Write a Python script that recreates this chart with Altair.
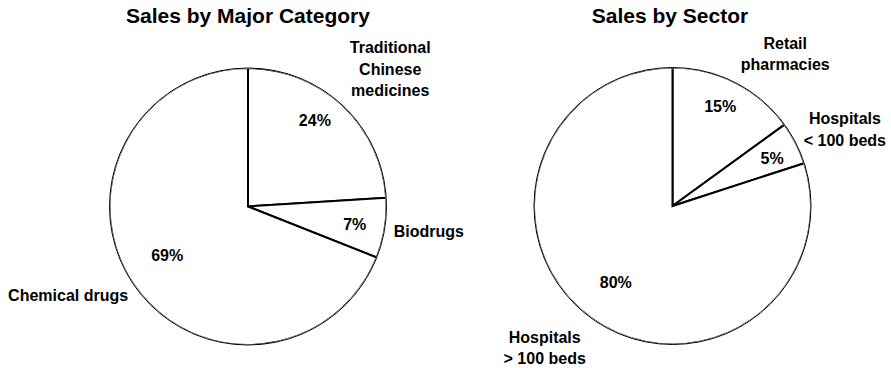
import altair as alt
import pandas as pd

# ---- data ----
category_names = ["Traditional\nChinese\nmedicines", "Biodrugs", "Chemical drugs"]
category_values = [24, 7, 69]

sector_names = ["Retail\npharmacies", "Hospitals\n< 100 beds", "Hospitals\n> 100 beds"]
sector_values = [15, 5, 80]

titles = ["Sales by Major Category", "Sales by Sector"]

FONT = "Liberation Sans"
R = 138.5
THETA_SCALE = alt.Scale(domain=[0, 100])

df_cat = pd.DataFrame({"idx": range(len(category_names)), "name": category_names, "value": category_values})
df_sec = pd.DataFrame({"idx": range(len(sector_names)), "name": sector_names, "value": sector_values})


def pie_layers(df, cx, cy):
    base = alt.Chart(df)
    slices = base.mark_arc(radius=R, fill="white", stroke="black", strokeWidth=2).encode(
        theta=alt.Theta("value:Q", stack=True, scale=THETA_SCALE),
        order=alt.Order("idx:Q"),
        detail="name:N",
        x=alt.value(cx), y=alt.value(cy),
    )
    agg = base.transform_aggregate(total="sum(value)")
    cover = agg.mark_arc(radius=141, radius2=137.8, fill="white", strokeWidth=0).encode(
        theta=alt.Theta("total:Q", stack=True, scale=THETA_SCALE),
        x=alt.value(cx), y=alt.value(cy),
    )
    circle = agg.mark_arc(radius=R, fillOpacity=0, stroke="black", strokeWidth=1).encode(
        theta=alt.Theta("total:Q", stack=True, scale=THETA_SCALE),
        x=alt.value(cx), y=alt.value(cy),
    )
    return [slices, cover, circle]


def label(df, i, field, r, dx, dy, cx, cy):
    return (
        alt.Chart(df)
        .transform_window(cum="sum(value)", sort=[alt.SortField("idx")])
        .transform_calculate(mid="datum.cum - datum.value / 2",
                             pct="format(datum.value, 'd') + '%'")
        .transform_filter(alt.datum.idx == i)
        .mark_text(radius=r, dx=dx, dy=dy, font=FONT, fontSize=16, fontWeight="bold",
                   color="black", lineBreak="\n", lineHeight=21.5, align="center", baseline="middle")
        .encode(
            theta=alt.Theta("mid:Q", stack=False, scale=THETA_SCALE),
            text=alt.Text(f"{field}:N"),
            x=alt.value(cx), y=alt.value(cy),
        )
    )


LCX, LCY = 248, 206.5
RCX, RCY = 672.5, 206

layers = []
layers += pie_layers(df_cat, LCX, LCY)
layers += pie_layers(df_sec, RCX, RCY)

# label placement (style offsets; dy for multi-line labels positions the first line)
pct_left = [(105, -5, -9), (105, 3, 2), (105, 6, -10)]
name_left = [(180, 19, -27), (180, 3, -3), (180, -31, -12)]
pct_right = [(105, 0, -5), (105, 6, 1), (105, 5, -8)]
name_right = [(180, 31, -2), (180, 12, -5), (180, -22, -14)]

for i, (r, dx, dy) in enumerate(pct_left):
    layers.append(label(df_cat, i, "pct", r, dx, dy, LCX, LCY))
for i, (r, dx, dy) in enumerate(name_left):
    layers.append(label(df_cat, i, "name", r, dx, dy, LCX, LCY))
for i, (r, dx, dy) in enumerate(pct_right):
    layers.append(label(df_sec, i, "pct", r, dx, dy, RCX, RCY))
for i, (r, dx, dy) in enumerate(name_right):
    layers.append(label(df_sec, i, "name", r, dx, dy, RCX, RCY))

df_titles = pd.DataFrame({"title": titles, "pos": [0, 1]})
title_layer = (
    alt.Chart(df_titles)
    .transform_calculate(tx="datum.pos == 0 ? 248 : 670")
    .mark_text(font=FONT, fontSize=21, fontWeight="bold", color="black", baseline="middle", align="center")
    .encode(x=alt.X("tx:Q", scale=None), y=alt.value(17), text="title:N")
)
layers.append(title_layer)

chart = (
    alt.layer(*layers)
    .properties(width=891, height=368, autosize=alt.AutoSizeParams(type="none"), padding=0,
                background="white")
    .configure_view(stroke=None)
)

chart.save("out.html", embed_options={"renderer": "svg", "actions": False})
